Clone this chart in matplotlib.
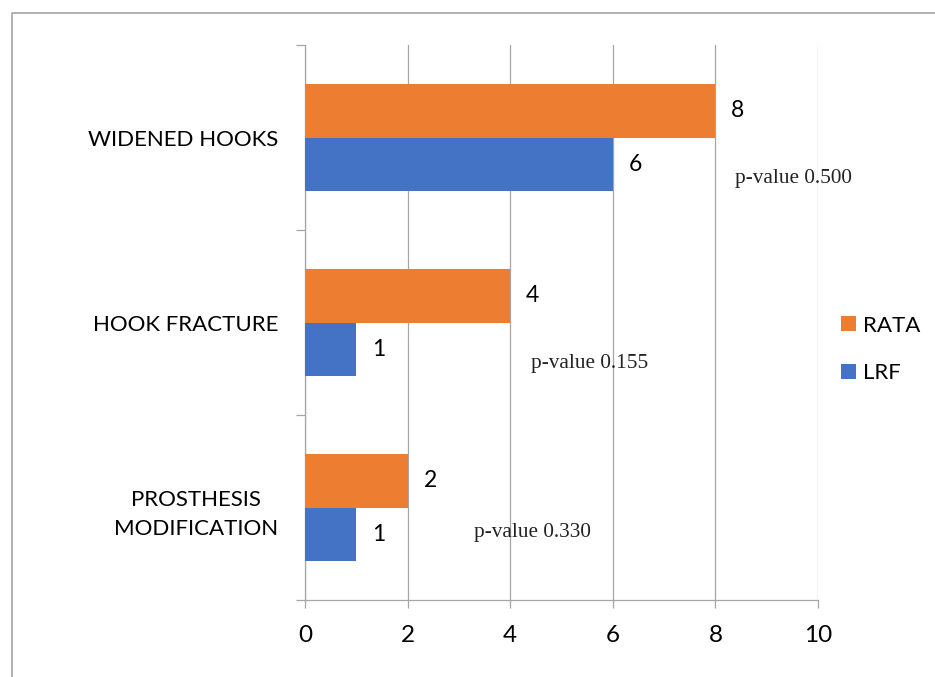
import numpy as np
import matplotlib
matplotlib.use("Agg")
import matplotlib.pyplot as plt
from matplotlib.lines import Line2D

# data
categories = ["WIDENED HOOKS", "HOOK FRACTURE", "PROSTHESIS\nMODIFICATION"]
rata = [8, 4, 2]
lrf = [6, 1, 1]
p_values = ["0.500", "0.155", "0.330"]
x_ticks = [0, 2, 4, 6, 8, 10]

# where the p-value notes sit (data coords: x, category row)
p_pos = [(8.38, 0.224), (4.40, 1.224), (3.29, 2.136)]

ORANGE = "#ED7D31"
BLUE = "#4472C4"
GRID = "#a6a6a6"

plt.rcParams["font.family"] = ["Lato", "DejaVu Sans"]

W, H = 935, 677
fig = plt.figure(figsize=(W / 100, H / 100), dpi=100)
fig.set_facecolor("w")
ax = fig.add_axes([305 / W, 1 - 600 / H, (818 - 305) / W, (600 - 45) / H])

y = np.arange(len(categories))
bh = 0.2865
ax.barh(y - bh / 2, rata, height=bh, color=ORANGE, label="RATA", zorder=3)
ax.barh(y + bh / 2, lrf, height=bh, color=BLUE, label="LRF", zorder=3)

# value labels next to bar ends
for i in range(len(categories)):
    ax.annotate(str(rata[i]), (rata[i], y[i] - bh / 2), xytext=(11.5, 0),
                textcoords="offset points", ha="left", va="center", fontsize=16.5)
    ax.annotate(str(lrf[i]), (lrf[i], y[i] + bh / 2), xytext=(11.5, 0),
                textcoords="offset points", ha="left", va="center", fontsize=16.5)

# p-value notes
for (px, py), pv in zip(p_pos, p_values):
    ax.text(px, py, "p-value " + pv, ha="left", va="center",
            fontsize=15.3, family="Liberation Serif", color="#222222")

ax.set_xlim(0, 10)
ax.set_ylim(2.5, -0.5)
ax.set_xticks(x_ticks)
ax.set_xticklabels([str(t) for t in x_ticks], fontsize=17.5)
ax.tick_params(axis="x", direction="out", length=5.8, width=0.9, color=GRID, pad=12)

ax.set_yticks(y)
ax.set_yticklabels(categories, fontsize=16, multialignment="center", linespacing=1.6)
ax.tick_params(axis="y", which="major", length=0, pad=19.5)
ax.set_yticks([-0.5, 0.5, 1.5, 2.5], minor=True)
ax.tick_params(axis="y", which="minor", direction="out", length=6.5, width=0.9, color=GRID)

ax.grid(axis="x", color=GRID, linewidth=0.9)
ax.set_axisbelow(True)
for s in ["top", "right"]:
    ax.spines[s].set_visible(False)
for s in ["left", "bottom"]:
    ax.spines[s].set_color(GRID)
    ax.spines[s].set_linewidth(0.9)

leg = fig.legend(loc="center left", bbox_to_anchor=(841 / W, 1 - 349.5 / H),
                 frameon=False, fontsize=16, handlelength=0.68, handleheight=0.68,
                 handletextpad=0.32, labelspacing=1.25, borderpad=0, borderaxespad=0)

# outer frame (only left and top edges show in the crop)
fig.add_artist(Line2D([11.5 / W, 11.5 / W, 1], [0, 1 - 12.5 / H, 1 - 12.5 / H],
                      transform=fig.transFigure, color="#a6a6a6", linewidth=1.2))

fig.savefig("out.png", dpi=100)
